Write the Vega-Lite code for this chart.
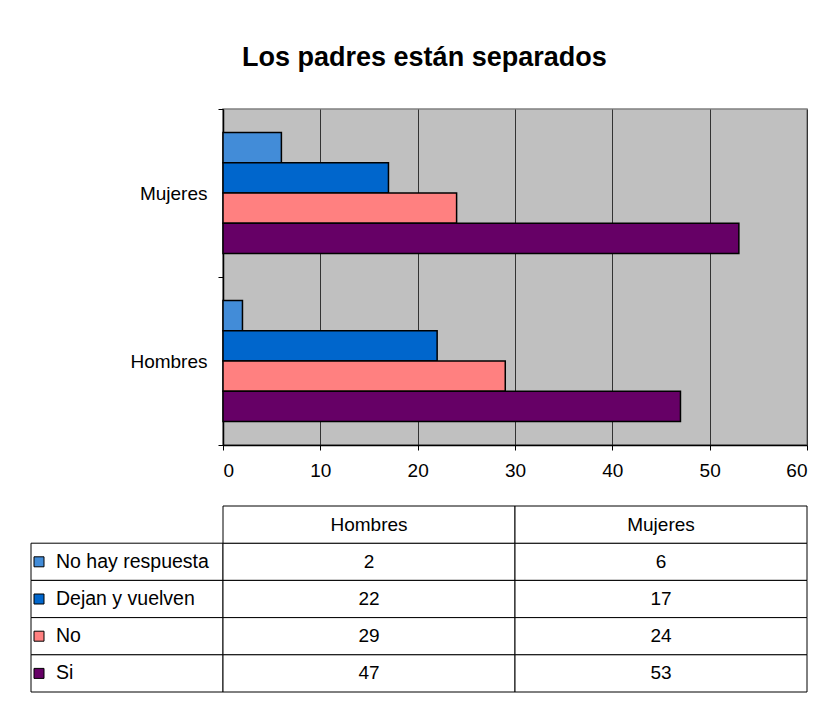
{
  "$schema": "https://vega.github.io/schema/vega-lite/v6.json",
  "background": "white",
  "padding": {"left": 30, "top": 44, "right": 5, "bottom": 5},
  "title": {"text": "Los padres están separados", "anchor": "middle", "fontSize": 27, "font": "Liberation Sans", "fontWeight": "bold", "color": "#000", "offset": 27, "dx": 5},
  "datasets": {
    "datos": [
      {"sexo": "Hombres", "respuesta": "No hay respuesta", "valor": 2},
      {"sexo": "Hombres", "respuesta": "Dejan y vuelven", "valor": 22},
      {"sexo": "Hombres", "respuesta": "No", "valor": 29},
      {"sexo": "Hombres", "respuesta": "Si", "valor": 47},
      {"sexo": "Mujeres", "respuesta": "No hay respuesta", "valor": 6},
      {"sexo": "Mujeres", "respuesta": "Dejan y vuelven", "valor": 17},
      {"sexo": "Mujeres", "respuesta": "No", "valor": 24},
      {"sexo": "Mujeres", "respuesta": "Si", "valor": 53}
    ],
    "cabecera": [
      {"sexo": "Hombres", "respuesta": "cabecera"},
      {"sexo": "Mujeres", "respuesta": "cabecera"}
    ],
    "series": [
      {"respuesta": "No hay respuesta"},
      {"respuesta": "Dejan y vuelven"},
      {"respuesta": "No"},
      {"respuesta": "Si"}
    ]
  },
  "columns": 2,
  "spacing": {"row": 61, "column": 0},
  "bounds": "flush",
  "align": "each",
  "concat": [
    {
      "data": {"values": []},
      "mark": "point",
      "width": 192,
      "height": 336
    },
    {
      "width": 584,
      "height": 336,
      "data": {"name": "datos"},
      "view": {"fill": "#C0C0C0", "stroke": "#808080", "strokeWidth": 1.5},
      "mark": {"type": "bar", "stroke": "#000", "strokeWidth": 1.5},
      "encoding": {
        "y": {
          "field": "sexo", "type": "nominal", "sort": ["Mujeres", "Hombres"],
          "scale": {"paddingInner": 0, "paddingOuter": 0},
          "axis": {"title": null, "tickBand": "extent", "tickSize": 5, "labelPadding": 11, "domainWidth": 1.5}
        },
        "yOffset": {
          "field": "respuesta", "type": "nominal",
          "sort": ["No hay respuesta", "Dejan y vuelven", "No", "Si"],
          "scale": {"paddingInner": 0, "paddingOuter": 0.78}
        },
        "x": {
          "field": "valor", "type": "quantitative",
          "scale": {"domain": [0, 60], "nice": false},
          "axis": {"title": null, "values": [0, 10, 20, 30, 40, 50, 60], "grid": true, "gridColor": "#333", "tickSize": 5, "labelPadding": 11, "domainWidth": 1.5}
        },
        "color": {
          "field": "respuesta", "type": "nominal",
          "scale": {"domain": ["No hay respuesta", "Dejan y vuelven", "No", "Si"], "range": ["#428cd8", "#0066CC", "#FF8080", "#660066"]},
          "legend": null
        }
      }
    },
    {
      "width": 192,
      "height": 186,
      "data": {"name": "series"},
      "encoding": {
        "y": {
          "field": "respuesta", "type": "nominal",
          "scale": {"domain": ["cabecera", "No hay respuesta", "Dejan y vuelven", "No", "Si"], "paddingInner": 0, "paddingOuter": 0},
          "axis": null
        }
      },
      "layer": [
        {"mark": {"type": "rect", "fill": "white", "stroke": "#000", "strokeWidth": 1}},
        {
          "mark": {"type": "point", "shape": "square", "size": 100, "filled": true, "stroke": "#000", "strokeWidth": 1, "opacity": 1, "x": 8},
          "encoding": {"color": {"field": "respuesta", "type": "nominal", "legend": null}}
        },
        {
          "mark": {"type": "text", "align": "left", "baseline": "middle", "x": 25, "fontSize": 19.5, "color": "#000"},
          "encoding": {"text": {"field": "respuesta", "type": "nominal"}}
        }
      ]
    },
    {
      "width": 584,
      "height": 186,
      "encoding": {
        "x": {"field": "sexo", "type": "nominal", "scale": {"domain": ["Hombres", "Mujeres"], "paddingInner": 0, "paddingOuter": 0}, "axis": null},
        "y": {"field": "respuesta", "type": "nominal", "scale": {"domain": ["cabecera", "No hay respuesta", "Dejan y vuelven", "No", "Si"], "paddingInner": 0, "paddingOuter": 0}, "axis": null}
      },
      "layer": [
        {"data": {"name": "datos"}, "mark": {"type": "rect", "fill": "white", "stroke": "#000", "strokeWidth": 1}},
        {"data": {"name": "cabecera"}, "mark": {"type": "rect", "fill": "white", "stroke": "#000", "strokeWidth": 1}},
        {"data": {"name": "datos"}, "mark": {"type": "text", "fontSize": 19, "color": "#000"}, "encoding": {"text": {"field": "valor", "type": "quantitative"}}},
        {"data": {"name": "cabecera"}, "mark": {"type": "text", "fontSize": 19, "color": "#000"}, "encoding": {"text": {"field": "sexo", "type": "nominal"}}}
      ]
    }
  ],
  "config": {
    "font": "Liberation Sans",
    "view": {"stroke": null},
    "axis": {"labelFont": "Liberation Sans", "labelFontSize": 19, "labelColor": "#000", "domainColor": "#000", "tickColor": "#000"},
    "text": {"font": "Liberation Sans", "fontSize": 19}
  }
}
